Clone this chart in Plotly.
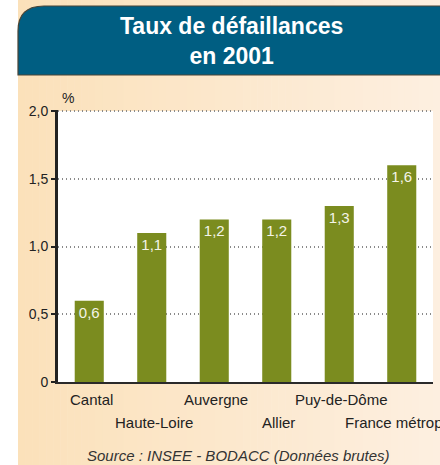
import plotly.graph_objects as go

# ---- data ----
categories = ["Cantal", "Haute-Loire", "Auvergne", "Allier", "Puy-de-Dôme", "France métropole"]
values = [0.6, 1.1, 1.2, 1.2, 1.3, 1.6]
y_tickvals = [0, 0.5, 1.0, 1.5, 2.0]
y_ticktext = ["0", "0,5", "1,0", "1,5", "2,0"]
title_text = "Taux de défaillances<br>en 2001"
source_text = "Source : INSEE - BODACC (Données brutes)"
unit_text = "%"

# ---- geometry (pixels) ----
W, H = 440, 465
L, R, T, B = 58, 7, 110, 83
PW, PH = W - L - R, H - T - B
FONT = "Liberation Sans, Arial, sans-serif"
BAR = "#7b8c1f"


def px_x(px):
    return (px - L) / PW


def px_y(py):
    return (H - B - py) / PH


labels = [f"{v:.1f}".replace(".", ",") for v in values]

fig = go.Figure()
fig.add_trace(go.Bar(
    x=categories, y=values, marker=dict(color=BAR, line=dict(width=0)),
    text=labels, textposition="inside", insidetextanchor="end",
    textfont=dict(color="#f4f4e8", size=15, family=FONT),
    constraintext="none", hoverinfo="skip", width=0.465,
))

shapes = []
# gradient panel background
n = 60
x0p, x1p = 18, W
c0 = (251, 225, 186)
c1 = (253, 239, 224)
for i in range(n):
    a = x0p + (x1p - x0p) * i / n
    b = x0p + (x1p - x0p) * (i + 1) / n + 0.6
    f = i / (n - 1)
    col = "rgb(%d,%d,%d)" % tuple(round(c0[k] + (c1[k] - c0[k]) * f) for k in range(3))
    shapes.append(dict(type="rect", xref="paper", yref="paper", x0=px_x(a), x1=px_x(b),
                       y0=px_y(H), y1=px_y(0), fillcolor=col, line=dict(width=0), layer="below"))
# white plot area
shapes.append(dict(type="rect", xref="paper", yref="paper", x0=0, x1=1, y0=0, y1=px_y(111),
                   fillcolor="white", line=dict(width=0), layer="below"))
# banner with rounded top-left corner
bx0, bx1, by0, by1, rx, ry = 18, W + 2, 6, 75, 26, 25
path = (f"M {px_x(bx0)},{px_y(by1)} L {px_x(bx0)},{px_y(by0 + ry)} "
        f"Q {px_x(bx0)},{px_y(by0)} {px_x(bx0 + rx)},{px_y(by0)} "
        f"L {px_x(bx1)},{px_y(by0)} L {px_x(bx1)},{px_y(by1)} Z")
shapes.append(dict(type="path", xref="paper", yref="paper", path=path,
                   fillcolor="#005e82", line=dict(color="#4a4436", width=1.2), layer="below"))

annotations = [
    dict(text="<b>" + title_text + "</b>", xref="paper", yref="paper", x=px_x(231), y=px_y(41),
         xanchor="center", yanchor="middle", showarrow=False,
         font=dict(family=FONT, size=23, color="white")),
    dict(text=unit_text, xref="paper", yref="paper", x=px_x(68), y=px_y(98),
         xanchor="center", yanchor="middle", showarrow=False,
         font=dict(family=FONT, size=14, color="#222")),
    dict(text="<i>" + source_text + "</i>", xref="paper", yref="paper", x=px_x(238), y=px_y(455),
         xanchor="center", yanchor="middle", showarrow=False,
         font=dict(family=FONT, size=15, color="#333")),
]
for i, c in enumerate(categories):
    annotations.append(dict(text=c, xref="x", yref="paper", x=c, y=0, xanchor="center",
                            yanchor="top", yshift=-7 if i % 2 == 0 else -30, xshift=2,
                            showarrow=False, font=dict(family=FONT, size=15, color="#222")))

fig.update_layout(
    width=W, height=H, margin=dict(l=L, r=R, t=T, b=B, pad=0),
    paper_bgcolor="white", plot_bgcolor="white", showlegend=False,
    bargap=0.5, shapes=shapes, annotations=annotations,
    font=dict(family=FONT, size=14, color="#222"),
    xaxis=dict(showticklabels=False, ticks="", showline=True, linecolor="#2a2a2a", linewidth=2,
               showgrid=False, zeroline=False, range=[-0.5, 5.5], fixedrange=True),
    yaxis=dict(range=[0, 2.008], tickvals=y_tickvals, ticktext=y_ticktext,
               showline=True, linecolor="#222", linewidth=3, ticks="outside", ticklen=4,
               tickwidth=2, tickcolor="#222", showgrid=True, gridcolor="#8a8a8a",
               griddash="1px,3px", gridwidth=1.5, zeroline=False,
               tickfont=dict(family=FONT, size=14, color="#222"), fixedrange=True),
)

fig.write_html(
    "out.html",
    config={"displayModeBar": False},
    post_script="document.body.style.margin='0';document.body.style.overflow='hidden';",
)
